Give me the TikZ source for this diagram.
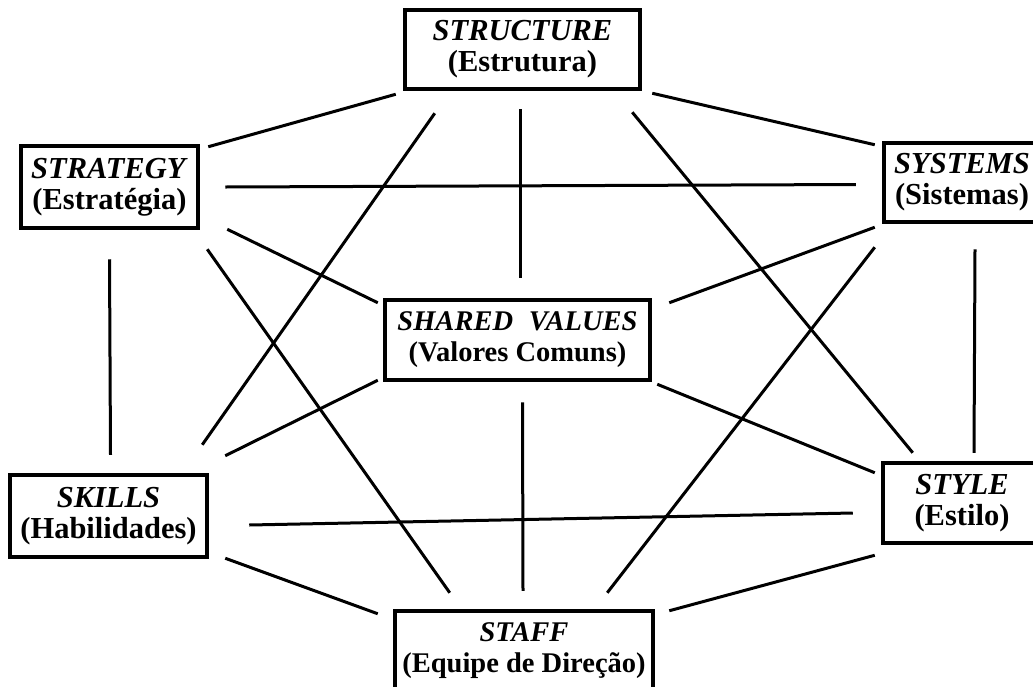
\documentclass[tikz,border=0pt]{standalone}
\usepackage{fontspec}
\setmainfont{Liberation Serif}
\usetikzlibrary{calc}
\begin{document}
\begin{tikzpicture}[x=1pt,y=-1pt,
  sbox/.style={draw=black, line width=4.5pt, fill=white, inner xsep=4pt,
    inner ysep=0pt, align=center, font=\fontsize{30.5}{31}\selectfont\bfseries},
  widebox/.style={sbox, font=\fontsize{28.5}{31}\selectfont\bfseries},
  link/.style={line width=3pt, black}]
\useasboundingbox (0,0) rectangle (1033,686);

% the seven elements
\node[sbox, minimum width=235, minimum height=79] (structure) at (522.5,49.5)
  {\textit{STRUCTURE}\\(Estrutura)};
\node[sbox, minimum width=177, minimum height=82] (strategy) at (109.5,187)
  {\textit{STRATEGY}\\(Estratégia)};
\node[sbox, minimum width=156, minimum height=79] (systems) at (962,182.5)
  {\textit{SYSTEMS}\\(Sistemas)};
\node[widebox, minimum width=265, minimum height=80] (shared) at (517.5,340)
  {\textit{SHARED\hspace{0.55em}VALUES}\\(Valores Comuns)};
\node[sbox, minimum width=197, minimum height=82] (skills) at (108.5,516)
  {\textit{SKILLS}\\(Habilidades)};
\node[sbox, minimum width=158, minimum height=80] (style) at (962,503)
  {\textit{STYLE}\\(Estilo)};
\node[widebox, minimum width=258, minimum height=80] (staff) at (524,651)
  {\textit{STAFF}\\(Equipe de Direção)};

% links between every pair of elements
\draw[link] ($(structure.south west)+(-7,3)$) -- ($(strategy.north east)+(8,3)$);
\draw[link] ($(structure.south east)+(10,2)$) -- ($(systems.north west)+(-7,4)$);
\draw[link] ($(strategy.east)+(25,0)$) -- ($(systems.west)+(-26,2)$);
\draw[link] ($(structure.south west)+(32,22)$) -- ($(skills.north east)+(-7,-28)$);
\draw[link] ($(structure.south east)+(-10,21)$) -- ($(style.north west)+(32,-8)$);
\draw[link] ($(structure.south)+(-2,18)$) -- ($(shared.north)+(3,-20)$);
\draw[link] ($(strategy.south east)+(27,-1)$) -- ($(shared.north west)+(-5,5)$);
\draw[link] ($(strategy.south east)+(7,19)$) -- ($(staff.north west)+(57,-16)$);
\draw[link] ($(strategy.south)+(0,29)$) -- ($(skills.north)+(2,-18)$);
\draw[link] ($(systems.south west)+(-7,3)$) -- ($(shared.north east)+(17,5)$);
\draw[link] ($(systems.south west)+(-7,23)$) -- ($(staff.north east)+(-48,-16)$);
\draw[link] ($(systems.south)+(13,25)$) -- ($(style.north)+(12,-8)$);
\draw[link] ($(shared.south west)+(-5,-2)$) -- ($(skills.north east)+(16,-17)$);
\draw[link] ($(shared.south east)+(5,2)$) -- ($(style.north west)+(-6,12)$);
\draw[link] ($(shared.south)+(5,20)$) -- ($(staff.north)+(-1,-18)$);
\draw[link] ($(skills.east)+(40,9)$) -- ($(style.west)+(-28,10)$);
\draw[link] ($(skills.south east)+(16,-1)$) -- ($(staff.north west)+(-15,5)$);
\draw[link] ($(style.south west)+(-6,10)$) -- ($(staff.north east)+(14,2)$);
\end{tikzpicture}
\end{document}
